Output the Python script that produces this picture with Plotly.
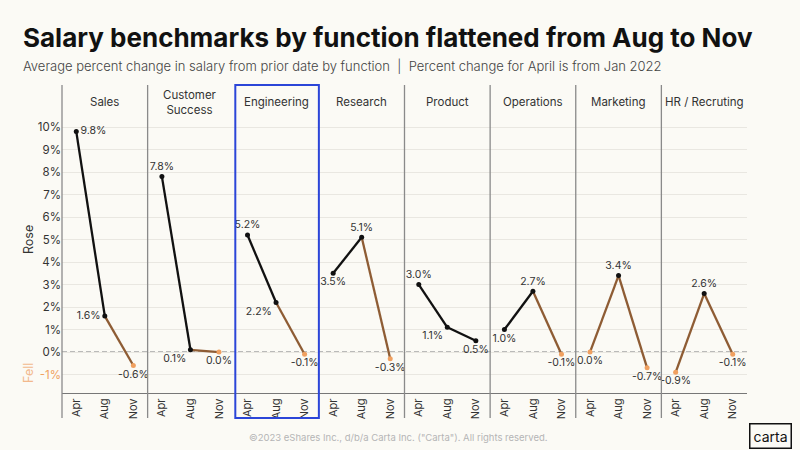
import plotly.graph_objects as go
from plotly.subplots import make_subplots

# Data
functions = ["Sales", "Customer<br>Success", "Engineering", "Research",
             "Product", "Operations", "Marketing", "HR / Recruting"]
months = ["Apr", "Aug", "Nov"]
sales = [9.8, 1.6, -0.6]
customer_success = [7.8, 0.1, 0.0]
engineering = [5.2, 2.2, -0.1]
research = [3.5, 5.1, -0.3]
product = [3.0, 1.1, 0.5]
operations = [1.0, 2.7, -0.1]
marketing = [0.0, 3.4, -0.7]
hr_recruiting = [-0.9, 2.6, -0.1]
series = [sales, customer_success, engineering, research,
          product, operations, marketing, hr_recruiting]

# where each value label sits relative to its point
label_pos = [
    ["middle right", "middle left", "bottom center"],
    ["top center", "bottom left", "bottom center"],
    ["top center", "bottom left", "bottom center"],
    ["bottom center", "top center", "bottom center"],
    ["top center", "bottom left", "bottom center"],
    ["bottom center", "top center", "bottom center"],
    ["bottom center", "top center", "bottom center"],
    ["bottom center", "top center", "bottom center"],
]

BG = "#FBFAF5"
BLACK = "#111111"
ORANGE = "#F0A060"
MIXED = "#8E5C34"   # stands in for the black-to-orange fade
TXT = "#333333"
FONT = "Inter"

# plot area in pixels
L, R, T, B = 62, 53, 85, 57
W, H = 800, 450


def px_x(px):
    return (px - L) / (W - L - R)


def px_y(py):
    return (H - B - py) / (H - T - B)


n = len(functions)
fig = make_subplots(rows=1, cols=n, shared_yaxes=True, horizontal_spacing=0)

for i, vals in enumerate(series):
    col = i + 1
    # line segments, coloured by whether they run into negative territory
    for j in range(len(months) - 1):
        a, b = vals[j], vals[j + 1]
        seg_color = BLACK if (a > 0 and b > 0) else MIXED
        fig.add_trace(go.Scatter(
            x=months[j:j + 2], y=[a, b], mode="lines",
            line=dict(color=seg_color, width=2.3),
            hoverinfo="skip", showlegend=False), row=1, col=col)
    fig.add_trace(go.Scatter(
        x=months, y=vals, mode="markers+text",
        marker=dict(size=5, color=[BLACK if v > 0 else ORANGE for v in vals]),
        text=[f"{v:.1f}%" for v in vals],
        textposition=label_pos[i],
        textfont=dict(family=FONT, size=10.5, color=TXT),
        cliponaxis=False, showlegend=False), row=1, col=col)

tick_vals = list(range(-1, 11))
tick_text = [f"<span style='color:{ORANGE}'>-1%</span>"] + [f"{v}%" for v in range(0, 11)]

fig.update_xaxes(
    type="category", range=[-0.5, 2.5], tickangle=-90,
    showline=True, linecolor="#777777", linewidth=1.2,
    showgrid=False, ticks="", tickfont=dict(family=FONT, size=11, color=TXT),
    fixedrange=True)
fig.update_yaxes(
    range=[-1.82, 11.87], tickvals=tick_vals, ticktext=tick_text,
    showgrid=True, gridcolor="#E9E7E1", gridwidth=1, zeroline=False,
    showline=False, ticks="", tickfont=dict(family=FONT, size=11.5, color=TXT),
    fixedrange=True)

# panel dividers and the highlight box around Engineering
for i in range(n):
    x0 = i / n
    if i in (2, 3):
        continue
    fig.add_shape(type="line", xref="paper", yref="paper",
                  x0=x0, x1=x0, y0=px_y(418), y1=1.0,
                  line=dict(color="#8A8A8A", width=1.3))
fig.add_shape(type="rect", xref="paper", yref="paper",
              x0=2 / n + 0.003, x1=3 / n, y0=px_y(418), y1=1.0,
              line=dict(color="#2B45D8", width=2))

# dashed zero line across all panels
fig.add_shape(type="line", xref="paper", yref="y",
              x0=0, x1=1, y0=0, y1=0, layer="below",
              line=dict(color="#A5A5A5", width=1.4, dash="5px,3px"))

# panel headers
for i, name in enumerate(functions):
    fig.add_annotation(x=(i + 0.5) / n, y=px_y(102), xref="paper", yref="paper",
                       xanchor="center", yanchor="middle",
                       text=name, showarrow=False,
                       font=dict(family=FONT, size=11.5, color=TXT))

# Rose / Fell side labels
fig.add_annotation(x=px_x(28), y=px_y(240), xref="paper", yref="paper",
                   xanchor="center", yanchor="middle",
                   text="Rose", showarrow=False, textangle=-90,
                   font=dict(family=FONT, size=12.5, color=TXT))
fig.add_annotation(x=px_x(28), y=px_y(373), xref="paper", yref="paper",
                   xanchor="center", yanchor="middle",
                   text="Fell", showarrow=False, textangle=-90,
                   font=dict(family=FONT, size=12.5, color="#F2B88C"))

# title and subtitle
fig.add_annotation(x=px_x(21), y=px_y(38), xref="paper", yref="paper",
                   xanchor="left", yanchor="middle", showarrow=False,
                   text="Salary benchmarks by function flattened from Aug to Nov",
                   font=dict(family=FONT, size=26, color="#111111", weight=700))
fig.add_annotation(x=px_x(21), y=px_y(66), xref="paper", yref="paper",
                   xanchor="left", yanchor="middle", showarrow=False,
                   text="Average percent change in salary from prior date by function  |  Percent change for April is from Jan 2022",
                   font=dict(family=FONT, size=13, color="#444444", weight=300))

# footer
fig.add_annotation(x=px_x(398), y=px_y(437), xref="paper", yref="paper",
                   xanchor="center", yanchor="middle", showarrow=False,
                   text="©2023 eShares Inc., d/b/a Carta Inc. (\"Carta\"). All rights reserved.",
                   font=dict(family=FONT, size=9.5, color="#B5B5B5"))
fig.add_annotation(x=px_x(770), y=px_y(436), xref="paper", yref="paper",
                   xanchor="center", yanchor="middle", showarrow=False,
                   text="carta",
                   bordercolor="#111111", borderwidth=1.5, borderpad=3,
                   font=dict(family=FONT, size=14, color="#111111"))

fig.update_layout(
    width=W, height=H,
    margin=dict(l=L, r=R, t=T, b=B),
    paper_bgcolor=BG, plot_bgcolor=BG,
    showlegend=False,
    font=dict(family=FONT, color=TXT),
)

fig.write_html("out.html", config={"displayModeBar": False},
               post_script="document.body.style.margin='0px';")
